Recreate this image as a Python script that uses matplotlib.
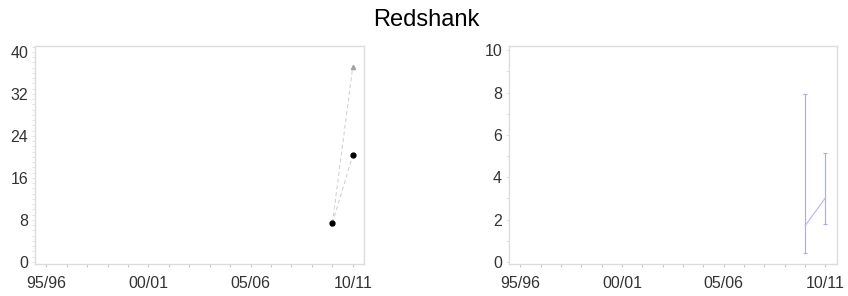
import matplotlib
matplotlib.use("Agg")
import matplotlib.pyplot as plt
from matplotlib.ticker import MultipleLocator

plt.rcParams['font.family'] = ['Liberation Sans', 'DejaVu Sans']

# season labels, index 0 = 1995/96
season_labels = ["95/96", "00/01", "05/06", "10/11"]
season_ticks = [0, 5, 10, 15]

# left panel: counts
count_x = [14, 15]
count_black = [7.4, 20.3]
count_grey = [7.4, 37.2]

# right panel: index with error bars
index_x = [14, 15]
index_mid = [1.71, 3.03]
index_low = [0.43, 1.77]
index_high = [7.93, 5.14]

fig = plt.figure(figsize=(8.48, 2.96), dpi=100)
fig.suptitle("Redshank", x=0.503, y=0.912, va='baseline', fontsize=17)

spine_col = '#dcdcdc'
text_col = '#333333'


def style_axes(ax):
    for s in ax.spines.values():
        s.set_color(spine_col)
        s.set_linewidth(1.0)
    ax.set_xlim(-0.55, 15.55)
    ax.set_xticks(season_ticks)
    ax.set_xticklabels(season_labels)
    ax.xaxis.set_minor_locator(MultipleLocator(1))
    ax.tick_params(axis='x', which='both', length=2.5, width=0.8, color='#c8c8c8',
                   labelsize=11.5, labelcolor=text_col, pad=6)
    ax.tick_params(axis='y', which='both', length=2, width=0.6, color='#dddddd',
                   labelsize=11.5, labelcolor=text_col, pad=3)


# left
ax1 = fig.add_axes([0.0413, 0.108, 0.388, 0.7365])
style_axes(ax1)
ax1.set_ylim(-0.4, 41.1)
ax1.set_yticks([0, 8, 16, 24, 32, 40])
ax1.yaxis.set_minor_locator(MultipleLocator(1))
ax1.plot(count_x, count_grey, ls=(0, (4, 3)), lw=0.7, color='#cccccc',
         marker='^', ms=3, mfc='#a0a0a0', mec='#a0a0a0')
ax1.plot(count_x, count_black, ls=(0, (4, 3)), lw=0.7, color='#cccccc',
         marker='o', ms=3.5, mfc='black', mec='black')

# right
ax2 = fig.add_axes([0.6002, 0.108, 0.3864, 0.7365])
style_axes(ax2)
ax2.set_ylim(-0.1, 10.2)
ax2.set_yticks([0, 2, 4, 6, 8, 10])
ax2.yaxis.set_minor_locator(MultipleLocator(1))
err = [[m - lo for m, lo in zip(index_mid, index_low)],
       [hi - m for m, hi in zip(index_mid, index_high)]]
ax2.errorbar(index_x, index_mid, yerr=err, color='#b4b4ff', ecolor='#a8a8ff',
             lw=0.8, elinewidth=0.8, capsize=1.5, capthick=0.8)

fig.savefig("out.png", dpi=100)
